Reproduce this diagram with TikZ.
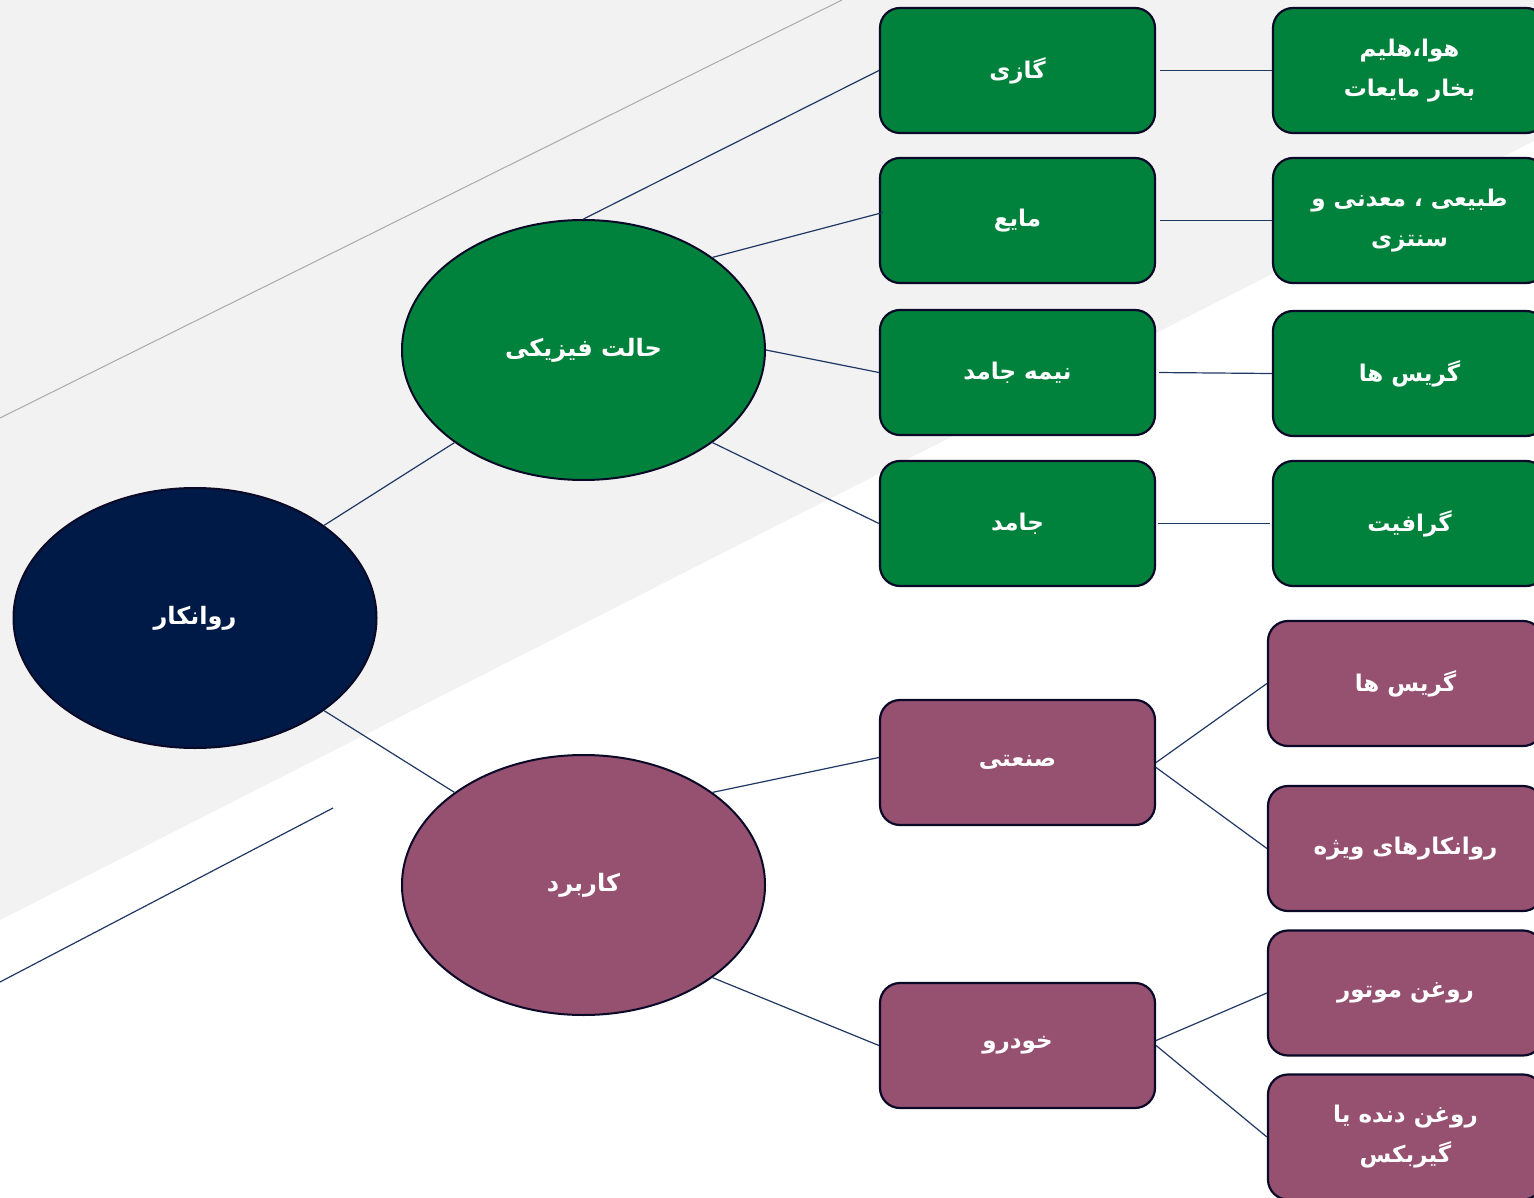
\documentclass[tikz,border=0pt]{standalone}
\usepackage{fontspec}
\usetikzlibrary{shapes.geometric,calc}
\newfontfamily\fa[Script=Arabic]{DejaVu Sans}
\TeXXeTstate=1
\definecolor{bggray}{HTML}{F2F2F2}
\definecolor{linegray}{HTML}{ABABAB}
\definecolor{navy}{HTML}{001A48}
\definecolor{conn}{HTML}{1F3864}
\definecolor{bord}{HTML}{0A0A28}
\definecolor{grn}{HTML}{00823C}
\definecolor{prp}{HTML}{965070}
\tikzset{
  x=1pt, y=-1pt,
  ell/.style={ellipse, draw=bord, line width=2pt, minimum width=363pt, minimum height=260pt, inner sep=0pt, text=white, font=\fa\bfseries\fontsize{24}{30}\selectfont},
  box/.style={rounded corners=20pt, draw=bord, line width=2.2pt, minimum height=125pt, inner sep=0pt, text=white, align=center, font=\fa\bfseries\fontsize{23}{40}\selectfont},
  gbox/.style={box, fill=grn},
  pbox/.style={box, fill=prp},
  link/.style={draw=conn, line width=1.2pt},
}
\begin{document}
\begin{tikzpicture}
\useasboundingbox (0,0) rectangle (1534,1198);
\fill[white] (0,0) rectangle (1534,1198);
\fill[bggray] (0,0) -- (1534,0) -- (1534,141) -- (0,920) -- cycle;
\draw[linegray, line width=1pt] (0,418) -- (842,0);
\draw[conn, line width=1.2pt] (0,982) -- (333,808);

% ellipses
\node[ell, fill=navy] (root) at (195,618) {\beginR روانکار\endR};
\node[ell, fill=grn] (phys) at (583.5,350) {\beginR حالت فیزیکی\endR};
\node[ell, fill=prp] (app) at (583.5,885) {\beginR کاربرد\endR};

% green column 1
\node[gbox, minimum width=275pt] (gaz) at (1017.5,70.5) {\beginR گازی\endR};
\node[gbox, minimum width=275pt] (maye) at (1017.5,220.5) {\beginR مایع\endR};
\node[gbox, minimum width=275pt] (nime) at (1017.5,372.5) {\beginR نیمه جامد\endR};
\node[gbox, minimum width=275pt] (jamed) at (1017.5,523.5) {\beginR جامد\endR};

% green column 2
\node[gbox, minimum width=273pt] (gaz2) at (1409.5,70.5) {\beginR هوا،هلیم\endR\\\beginR بخار مایعات\endR};
\node[gbox, minimum width=273pt] (maye2) at (1409.5,220.5) {\beginR طبیعی ، معدنی و\endR\\\beginR سنتزی\endR};
\node[gbox, minimum width=273pt] (nime2) at (1409.5,373.5) {\beginR گریس ها\endR};
\node[gbox, minimum width=273pt] (jamed2) at (1409.5,523.5) {\beginR گرافیت\endR};

% purple column 1
\node[pbox, minimum width=275pt] (sanati) at (1017.5,762.5) {\beginR صنعتی\endR};
\node[pbox, minimum width=275pt] (khodro) at (1017.5,1045.5) {\beginR خودرو\endR};

% purple column 2
\node[pbox, minimum width=275pt] (gris) at (1405.5,683.5) {\beginR گریس ها\endR};
\node[pbox, minimum width=275pt] (vijeh) at (1405.5,848.5) {\beginR روانکارهای ویژه\endR};
\node[pbox, minimum width=275pt] (motor) at (1405.5,993) {\beginR روغن موتور\endR};
\node[pbox, minimum width=275pt] (dande) at (1405.5,1137) {\beginR روغن دنده یا\endR\\\beginR گیربکس\endR};

% connectors
\draw[link] (root.north east) -- (phys.south west);
\draw[link] (root.south east) -- (app.north west);
\draw[link] (phys.north) -- (gaz.west);
\draw[link] (phys.north east) -- ($(maye.west)+(4,-8)$);
\draw[link] (phys.east) -- (nime.west);
\draw[link] (phys.south east) -- (jamed.west);
\draw[link, shorten <=4pt] (gaz.east) -- (gaz2.west);
\draw[link, shorten <=4pt] (maye.east) -- (maye2.west);
\draw[link, shorten <=3pt] (nime.east) -- (nime2.west);
\draw[link, shorten <=2pt, shorten >=2pt] (jamed.east) -- (jamed2.west);
\draw[link] (app.north east) -- ($(sanati.west)+(0,-5)$);
\draw[link] (app.south east) -- (khodro.west);
\draw[link] (sanati.east) -- (gris.west);
\draw[link] ($(sanati.east)+(0,5)$) -- (vijeh.west);
\draw[link] ($(khodro.east)+(0,-5)$) -- (motor.west);
\draw[link] (khodro.east) -- (dande.west);
\end{tikzpicture}
\end{document}
